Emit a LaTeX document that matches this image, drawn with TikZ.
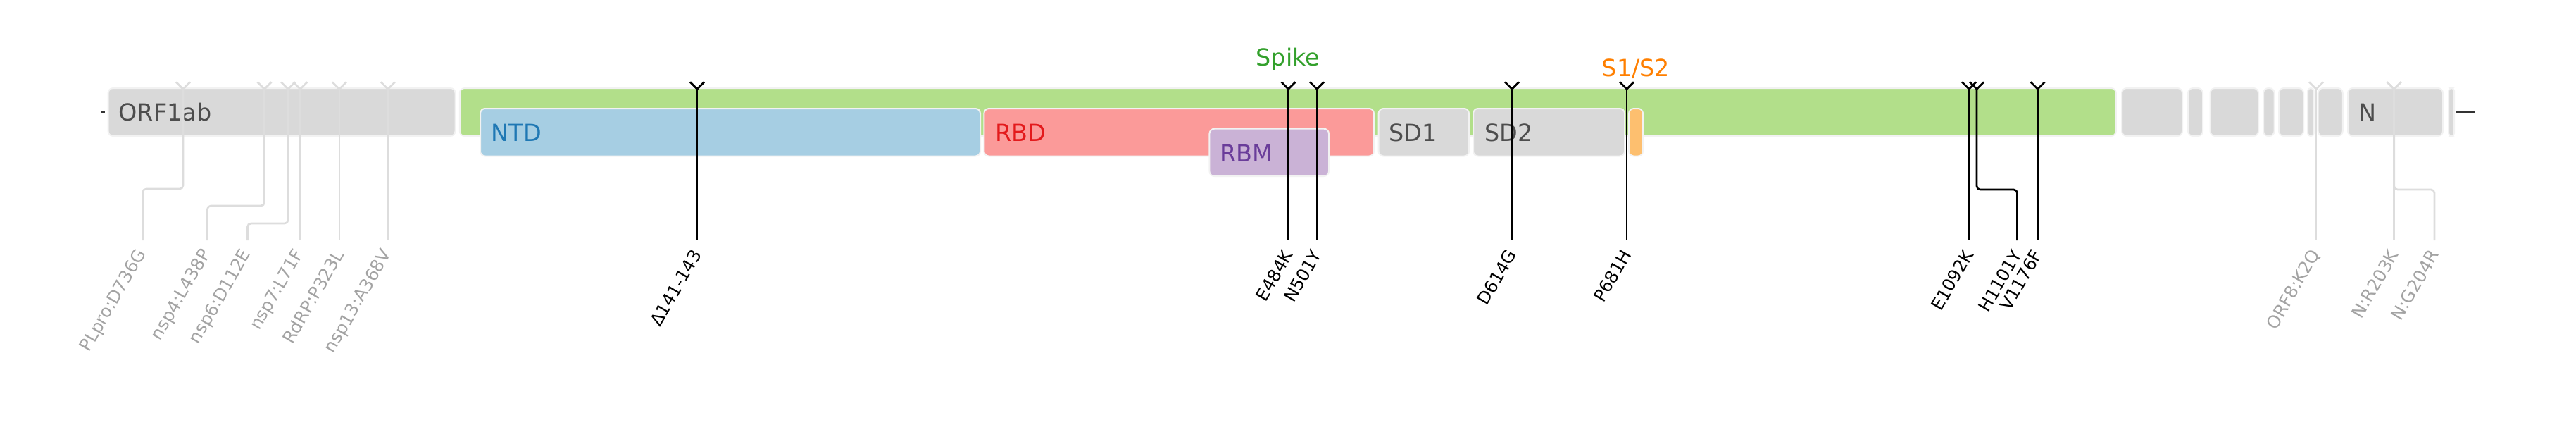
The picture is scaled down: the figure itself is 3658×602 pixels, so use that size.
\documentclass[tikz,border=0pt]{standalone}
\usepackage{fontspec}
\setmainfont{DejaVu Sans}
\usetikzlibrary{arrows.meta}
\definecolor{tgrey}{HTML}{d9d9d9}
\definecolor{cgrey}{HTML}{4d4d4d}
\definecolor{tgreen}{HTML}{b2df8a}
\definecolor{cgreen}{HTML}{33a02c}
\definecolor{tblue}{HTML}{a6cee3}
\definecolor{cblue}{HTML}{1f78b4}
\definecolor{tred}{HTML}{fb9a99}
\definecolor{cred}{HTML}{e31a1c}
\definecolor{tpurple}{HTML}{cab2d6}
\definecolor{cpurple}{HTML}{6a3d9a}
\definecolor{torange}{HTML}{fdbf6f}
\definecolor{corange}{HTML}{ff7f00}
\definecolor{lgrey}{HTML}{dddddd}
\definecolor{mgrey}{HTML}{a3a3a3}
\definecolor{edgegrey}{HTML}{f2f2f2}

\tikzset{
  region/.style={draw=edgegrey, line width=0.02cm, rounded corners=0.07cm},
  regionlab/.style={anchor=west, inner sep=0pt, font=\fontsize{9.5}{11}\selectfont},
  grouplab/.style={anchor=base, inner sep=0pt, font=\fontsize{9.5}{11}\selectfont},
  mutlab/.style={anchor=east, rotate=60, inner sep=0pt, font=\fontsize{7}{8}\selectfont},
  mut/.style={line width=0.027cm, shorten >=0.15cm,
    {Straight Barb[reversed, length=0.1cm, width=0.2cm]}-},
}

\begin{document}
\begin{tikzpicture}[x=0.01cm, y=-0.01cm]
  \useasboundingbox (0,0) rectangle (3658,602);
  % genome ends
  \fill[black!80] (144,157) rectangle (149,161);
  \fill[black!80] (3488,157) rectangle (3514,161);
  % ORF1ab
  \path[region, fill=tgrey] (153.6,125) rectangle (646.5,193);
  \node[regionlab, cgrey] (orf1ab) at (168,159) {ORF1ab};
  % Spike and its domains
  \path[region, fill=tgreen] (652.8,125) rectangle (3004.8,193);
  \path[region, fill=tblue] (682,154) rectangle (1392,221.5);
  \path[region, fill=tred] (1397.3,154) rectangle (1951,221.5);
  \path[region, fill=tpurple] (1717.4,182.7) rectangle (1887,250);
  \path[region, fill=tgrey] (1957.6,154) rectangle (2086,221.5);
  \path[region, fill=tgrey] (2092,154) rectangle (2307,221.5);
  \path[region, fill=torange] (2313,154) rectangle (2333,221.5);
  \node[regionlab, cblue] (ntd) at (697,188) {NTD};
  \node[regionlab, cred] (rbd) at (1413,188) {RBD};
  \node[regionlab, cpurple] (rbm) at (1732,217) {RBM};
  \node[regionlab, cgrey] (sd1) at (1972,188) {SD1};
  \node[regionlab, cgrey] (sd2) at (2108,188) {SD2};
  \node[grouplab, cgreen] (spike) at (1828.8,93) {Spike};
  \node[grouplab, corange] (s1s2) at (2323,108) {S1/S2};
  % downstream ORFs
  \foreach \xa/\xb in {3013/3099, 3107/3128, 3138.5/3207, 3214/3229.6, 3236/3271, 3291.6/3326.7, 3334/3469}
    \path[region, fill=tgrey] (\xa,125) rectangle (\xb,193);
  \foreach \xa/\xb in {3277/3285.6, 3477/3485}
    \path[region, fill=tgrey, rounded corners=0.04cm] (\xa,125) rectangle (\xb,193);
  \node[regionlab, cgrey] (n) at (3349,159) {N};
  % mutations outside Spike
  \foreach \tx/\lab [count=\i] in {426.4/nsp7:L71F, 481.9/RdRP:P323L, 550.8/nsp13:A368V, 3289/ORF8:K2Q, 3399.6/N:R203K} {
    \coordinate (g\i-tip) at (\tx,115);
    \node[mutlab, mgrey] (g\i) at (\tx,356) {\lab};
    \draw[mut, lgrey] (g\i-tip) -- (g\i.east);
  }
  \foreach \tx/\lx/\by/\lab [count=\i] in {260/202.6/268/PLpro:D736G, 375.5/294.4/292/nsp4:L438P, 409.2/351.4/317/nsp6:D112E, 3399.6/3457/269/N:G204R} {
    \coordinate (gb\i-tip) at (\tx,115);
    \node[mutlab, mgrey] (gb\i) at (\lx,356) {\lab};
    \draw[mut, lgrey, rounded corners=0.05cm] (gb\i-tip) -- (\tx,\by) -| (gb\i.east);
  }
  % mutations in Spike
  \foreach \tx/\lab [count=\i] in {990/Δ141-143, 1829.5/E484K, 1870/N501Y, 2147/D614G, 2310/P681H, 2796/E1092K, 2893.5/V1176F} {
    \coordinate (s\i-tip) at (\tx,115);
    \node[mutlab] (s\i) at (\tx,356) {\lab};
    \draw[mut] (s\i-tip) -- (s\i.east);
  }
  \coordinate (h1101y-tip) at (2807,115);
  \node[mutlab] (h1101y) at (2864.5,356) {H1101Y};
  \draw[mut, rounded corners=0.05cm] (h1101y-tip) -- (2807,269) -| (h1101y.east);
\end{tikzpicture}
\end{document}
